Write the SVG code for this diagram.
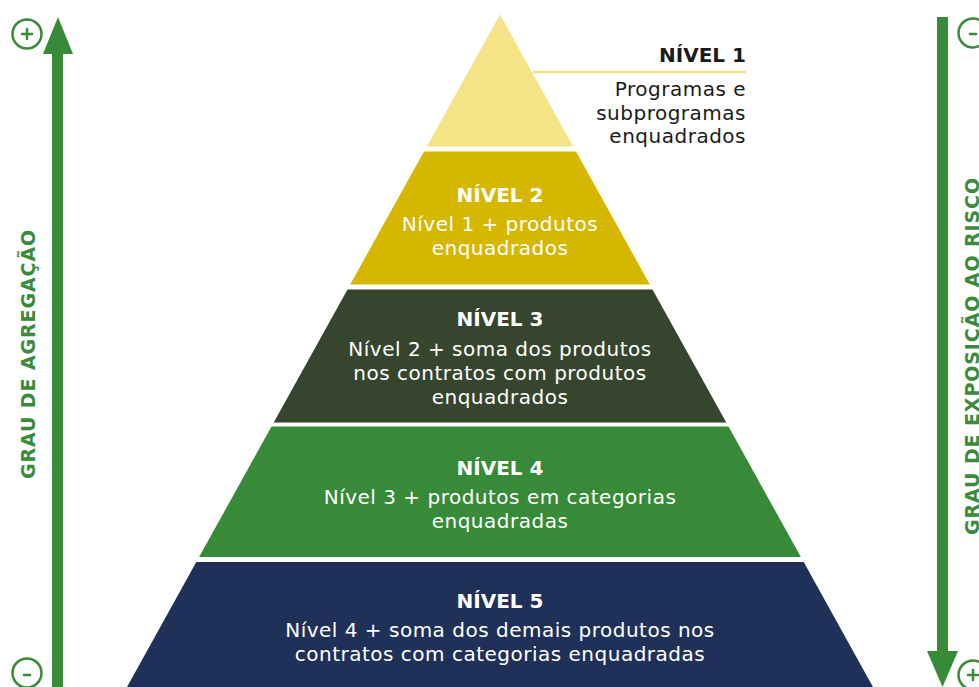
<svg xmlns="http://www.w3.org/2000/svg" width="979" height="687" viewBox="0 0 979 687">
  <style>
    .t { font-family: "DejaVu Sans", "Open Sans", sans-serif; font-size: 20px; letter-spacing: 0.5px; fill: #ffffff; text-anchor: middle; }
    .h { font-weight: 700; letter-spacing: 0; }
    .dark { fill: #1a1a1a; text-anchor: end; }
    .axis { font-family: "DejaVu Sans", "Open Sans", sans-serif; font-size: 19px; font-weight: 700; letter-spacing: 0.9px; fill: #3a8b3a; text-anchor: middle; }
    .ring { fill: none; stroke: #3a8b3a; stroke-width: 2.5; }
    .sign { stroke: #3a8b3a; stroke-width: 2.5; stroke-linecap: round; }
  </style>

  <rect width="979" height="687" fill="#ffffff"/>

  <!-- left axis: aggregation -->
  <g id="axis-left">
    <rect x="52" y="52" width="11" height="640" fill="#378a37"/>
    <polygon points="58,17 43,54 73,54" fill="#378a37"/>
    <circle class="ring" cx="27" cy="34" r="14.5"/>
    <line class="sign" x1="22" y1="34" x2="32" y2="34"/>
    <line class="sign" x1="27" y1="29" x2="27" y2="39"/>
    <circle class="ring" cx="27" cy="673" r="14.5"/>
    <line class="sign" x1="24" y1="675" x2="30" y2="675"/>
    <text class="axis" transform="translate(35,354) rotate(-90)">GRAU DE AGREGAÇÃO</text>
  </g>

  <!-- right axis: risk exposure -->
  <g id="axis-right">
    <rect x="937" y="17" width="11" height="640" fill="#378a37"/>
    <polygon points="927,651 958,651 942.5,687" fill="#378a37"/>
    <circle class="ring" cx="973" cy="33" r="14.5"/>
    <line class="sign" x1="970" y1="34" x2="976" y2="34"/>
    <circle class="ring" cx="973" cy="675" r="14.5"/>
    <line class="sign" x1="968" y1="675" x2="978" y2="675"/>
    <line class="sign" x1="973" y1="670" x2="973" y2="680"/>
    <text class="axis" transform="translate(979,356) rotate(-90)">GRAU DE EXPOSIÇÃO AO RISCO</text>
  </g>

  <!-- pyramid levels -->
  <g id="level-1">
    <polygon points="500,14.5 573.2,146.5 426.8,146.5" fill="#f5e388"/>
    <line x1="533" y1="72" x2="746" y2="72" stroke="#f5e388" stroke-width="2.5"/>
    <text class="t h dark" x="746" y="62">NÍVEL 1</text>
    <text class="t dark" x="746" y="96">Programas e</text>
    <text class="t dark" x="746" y="120">subprogramas</text>
    <text class="t dark" x="746" y="143">enquadrados</text>
  </g>

  <g id="level-2">
    <polygon points="424,151.5 576,151.5 649.8,284.5 350.2,284.5" fill="#d6b700"/>
    <text class="t h" x="500" y="202">NÍVEL 2</text>
    <text class="t" x="500" y="231">Nível 1 + produtos</text>
    <text class="t" x="500" y="255">enquadrados</text>
  </g>

  <g id="level-3">
    <polygon points="347.5,289.5 652.5,289.5 726.3,422.5 273.7,422.5" fill="#36452e"/>
    <text class="t h" x="500" y="326">NÍVEL 3</text>
    <text class="t" x="500" y="356">Nível 2 + soma dos produtos</text>
    <text class="t" x="500" y="380">nos contratos com produtos</text>
    <text class="t" x="500" y="404">enquadrados</text>
  </g>

  <g id="level-4">
    <polygon points="271.5,426.5 728.5,426.5 800.9,557 199.1,557" fill="#378a37"/>
    <text class="t h" x="500" y="475">NÍVEL 4</text>
    <text class="t" x="500" y="504">Nível 3 + produtos em categorias</text>
    <text class="t" x="500" y="528">enquadradas</text>
  </g>

  <g id="level-5">
    <polygon points="196.3,562 803.7,562 873,687 127,687" fill="#1f3159"/>
    <text class="t h" x="500" y="608">NÍVEL 5</text>
    <text class="t" x="500" y="637">Nível 4 + soma dos demais produtos nos</text>
    <text class="t" x="500" y="661">contratos com categorias enquadradas</text>
  </g>

  <g id="connectors"></g>
</svg>
